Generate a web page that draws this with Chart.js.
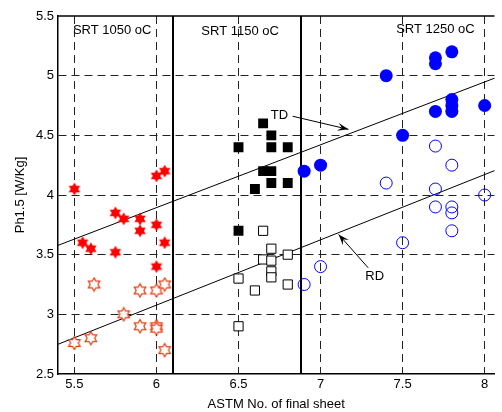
<!DOCTYPE html>
<html>
<head>
    <title>Ph1.5 vs ASTM grain size</title>
    <script src="https://cdn.jsdelivr.net/npm/chart.js"></script>
    <style>
        body { margin: 0; background: #fff; }
    </style>
</head>
<body>
    <canvas id="chart" width="502" height="412"></canvas>
    <script>
        // data: [ASTM no., Ph1.5]
        var srt1050TD = [[5.5, 4.05], [6.0, 4.16], [6.05, 4.2], [5.75, 3.85], [5.8, 3.8], [5.9, 3.8],
            [5.9, 3.7], [6.0, 3.75], [6.05, 3.6], [5.55, 3.6], [5.6, 3.55], [5.75, 3.52], [6.0, 3.4]];
        var srt1050RD = [[5.62, 3.25], [5.9, 3.2], [6.0, 3.2], [6.05, 3.25], [5.8, 3.0], [5.9, 2.9],
            [6.0, 2.9], [6.0, 2.88], [5.6, 2.8], [5.5, 2.76], [6.05, 2.7]];
        var srt1150TD = [[6.65, 4.6], [6.7, 4.5], [6.5, 4.4], [6.7, 4.4], [6.8, 4.4], [6.65, 4.2],
            [6.7, 4.2], [6.7, 4.1], [6.8, 4.1], [6.6, 4.05], [6.5, 3.7]];
        var srt1150RD = [[6.65, 3.7], [6.7, 3.55], [6.65, 3.46], [6.7, 3.45], [6.8, 3.5], [6.5, 3.3],
            [6.7, 3.36], [6.7, 3.31], [6.8, 3.25], [6.6, 3.2], [6.5, 2.9]];
        var srt1250TD = [[7.8, 5.2], [7.7, 5.15], [7.7, 5.1], [7.4, 5.0], [7.8, 4.8], [7.8, 4.75],
            [7.8, 4.7], [7.7, 4.7], [8.0, 4.75], [7.5, 4.5], [7.0, 4.25], [6.9, 4.2]];
        var srt1250RD = [[7.7, 4.41], [7.8, 4.25], [7.4, 4.1], [7.7, 4.05], [8.0, 4.0], [7.7, 3.9],
            [7.8, 3.9], [7.8, 3.85], [7.8, 3.7], [7.5, 3.6], [7.0, 3.4], [6.9, 3.25]];

        // fitted trend lines (end points)
        var tdLine = [[5.4, 3.578], [8.1, 5.0]];
        var rdLine = [[5.4, 2.749], [8.1, 4.226]];

        // group boundaries and labels
        var srtBounds = [6.1, 6.88];
        var srtLabels = ['SRT 1050 oC', 'SRT 1150 oC', 'SRT 1250 oC'];
        var srtLabelPos = [[5.73, 5.38], [6.51, 5.37], [7.70, 5.39]];

        // arrow annotations: text, text pos, tail, tip
        var notes = [
            { text: 'TD', at: [6.75, 4.67], from: [6.83, 4.66], to: [7.17, 4.55] },
            { text: 'RD', at: [7.33, 3.32], from: [7.29, 3.39], to: [7.11, 3.67] }
        ];

        var xTicks = [5.5, 6, 6.5, 7, 7.5, 8];
        var yTicks = [2.5, 3, 3.5, 4, 4.5, 5, 5.5];

        function pts(arr) {
            return arr.map(function (p) { return { x: p[0], y: p[1] }; });
        }

        // six pointed star marker
        function hexagram(fill, stroke) {
            var c = document.createElement('canvas');
            c.width = 16; c.height = 16;
            var g = c.getContext('2d');
            var r = 6.6, ri = r / Math.sqrt(3);
            g.beginPath();
            for (var i = 0; i < 12; i++) {
                var a = -Math.PI / 2 + i * Math.PI / 6;
                var rr = (i % 2 === 0) ? r : ri;
                var px = 8 + rr * Math.cos(a), py = 8 + rr * Math.sin(a);
                if (i === 0) g.moveTo(px, py); else g.lineTo(px, py);
            }
            g.closePath();
            if (fill) { g.fillStyle = fill; g.fill(); }
            if (stroke) { g.strokeStyle = stroke; g.lineWidth = 1.2; g.stroke(); }
            return c;
        }
        var starFilled = hexagram('#ff0000', null);
        var starOpen = hexagram('#ffffff', '#e8380c');

        var overlay = {
            id: 'overlay',
            beforeDatasetsDraw: function (chart) {
                var ctx = chart.ctx, a = chart.chartArea;
                var xs = chart.scales.x;
                ctx.save();
                ctx.strokeStyle = '#000';
                ctx.lineWidth = 2;
                srtBounds.forEach(function (v) {
                    var px = Math.round(xs.getPixelForValue(v));
                    ctx.beginPath();
                    ctx.moveTo(px, a.top);
                    ctx.lineTo(px, a.bottom);
                    ctx.stroke();
                });
                // top frame
                ctx.lineWidth = 1.5;
                ctx.beginPath();
                ctx.moveTo(a.left, a.top);
                ctx.lineTo(a.right, a.top);
                ctx.stroke();
                ctx.restore();
            },
            afterDatasetsDraw: function (chart) {
                var ctx = chart.ctx;
                var xs = chart.scales.x, ys = chart.scales.y;
                function P(p) { return [xs.getPixelForValue(p[0]), ys.getPixelForValue(p[1])]; }
                ctx.save();
                ctx.fillStyle = '#000';
                ctx.font = '13px "Liberation Sans", Arial, sans-serif';
                ctx.textAlign = 'center';
                ctx.textBaseline = 'middle';
                srtLabels.forEach(function (t, i) {
                    var q = P(srtLabelPos[i]);
                    ctx.fillText(t, q[0], q[1]);
                });
                notes.forEach(function (n) {
                    var q = P(n.at);
                    ctx.fillText(n.text, q[0], q[1]);
                    var f = P(n.from), t = P(n.to);
                    ctx.strokeStyle = '#000';
                    ctx.lineWidth = 1;
                    ctx.beginPath();
                    ctx.moveTo(f[0], f[1]);
                    ctx.lineTo(t[0], t[1]);
                    ctx.stroke();
                    var ang = Math.atan2(t[1] - f[1], t[0] - f[0]);
                    var L = 11, W = 4;
                    ctx.beginPath();
                    ctx.moveTo(t[0], t[1]);
                    ctx.lineTo(t[0] - L * Math.cos(ang) + W * Math.sin(ang), t[1] - L * Math.sin(ang) - W * Math.cos(ang));
                    ctx.lineTo(t[0] - 0.6 * L * Math.cos(ang), t[1] - 0.6 * L * Math.sin(ang));
                    ctx.lineTo(t[0] - L * Math.cos(ang) - W * Math.sin(ang), t[1] - L * Math.sin(ang) + W * Math.cos(ang));
                    ctx.closePath();
                    ctx.fill();
                });
                ctx.restore();
            }
        };

        var tickFont = { family: '"Liberation Sans", Arial, sans-serif', size: 13 };
        function plainNum(v) { return String(v); }

        new Chart(document.getElementById('chart').getContext('2d'), {
            type: 'scatter',
            data: {
                datasets: [
                    { data: pts(srt1050TD), pointStyle: starFilled },
                    { data: pts(srt1050RD), pointStyle: starOpen },
                    { data: pts(srt1150TD), pointStyle: 'rect', pointRadius: 7, backgroundColor: '#000', borderColor: '#000', borderWidth: 0 },
                    { data: pts(srt1150RD), pointStyle: 'rect', pointRadius: 6.5, backgroundColor: '#fff', borderColor: '#000', borderWidth: 1 },
                    { data: pts(srt1250TD), pointStyle: 'circle', pointRadius: 6.5, backgroundColor: '#0000ff', borderColor: '#0000ff', borderWidth: 0 },
                    { data: pts(srt1250RD), pointStyle: 'circle', pointRadius: 6, backgroundColor: 'rgba(0,0,0,0)', borderColor: '#0000ff', borderWidth: 1 },
                    { data: pts(tdLine), showLine: true, pointRadius: 0, borderColor: '#000', borderWidth: 1 },
                    { data: pts(rdLine), showLine: true, pointRadius: 0, borderColor: '#000', borderWidth: 1 }
                ]
            },
            options: {
                responsive: false,
                animation: false,
                layout: { padding: { top: 16, right: 0, left: 0, bottom: 0 } },
                plugins: { legend: { display: false }, tooltip: { enabled: false } },
                elements: { point: { hoverRadius: 0 } },
                scales: {
                    x: {
                        type: 'linear',
                        min: 5.4,
                        max: 8.06,
                        afterFit: function (s) { s.height = 38; },
                        afterBuildTicks: function (s) { s.ticks = xTicks.map(function (v) { return { value: v }; }); },
                        ticks: { font: tickFont, color: '#000', padding: 3, maxRotation: 0, callback: plainNum },
                        grid: { color: '#222', lineWidth: 1, drawTicks: false },
                        border: { color: '#000', width: 1.5, dash: [8, 5] },
                        title: { display: true, text: 'ASTM No. of final sheet', font: tickFont, color: '#000', padding: { top: 0, bottom: 0 } }
                    },
                    y: {
                        min: 2.5,
                        max: 5.5,
                        afterFit: function (s) { s.width = 58; },
                        afterBuildTicks: function (s) { s.ticks = yTicks.map(function (v) { return { value: v }; }); },
                        ticks: { font: tickFont, color: '#000', padding: 4, callback: plainNum },
                        grid: {
                            color: function (c) {
                                var v = c.tick && c.tick.value;
                                return (v === 2.5 || v === 5.5) ? 'rgba(0,0,0,0)' : '#222';
                            },
                            lineWidth: 1,
                            drawTicks: false
                        },
                        border: { color: '#000', width: 1.5, dash: [8, 5] },
                        title: { display: true, text: 'Ph1.5 [W/Kg]', font: tickFont, color: '#000', padding: { top: 13, bottom: 0 } }
                    }
                }
            },
            plugins: [overlay]
        });
    </script>
</body>
</html>
